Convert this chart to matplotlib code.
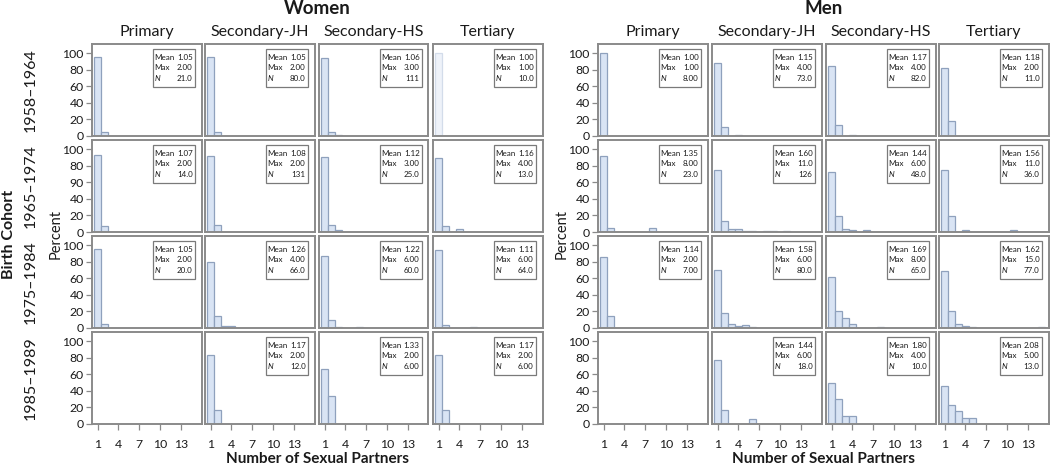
import matplotlib
matplotlib.use("Agg")
import matplotlib.pyplot as plt
from matplotlib.patches import Rectangle

plt.rcParams['font.family'] = ['Lato', 'DejaVu Sans']

cohorts = ["1958\u20131964", "1965\u20131974", "1975\u20131984", "1985\u20131989"]
education = ["Primary", "Secondary-JH", "Secondary-HS", "Tertiary"]
x_ticks = [1, 4, 7, 10, 13]
y_ticks = [0, 20, 40, 60, 80, 100]

# percent of respondents by number of partners (index 0 -> 1 partner)
women_pct = [
    [[95.2, 4.8], [95.0, 5.0], [94.6, 4.5, 0.9], [100.0]],
    [[92.9, 7.1], [92.0, 8.0], [90.0, 8.0, 2.0], [89.0, 7.5, 0, 3.5]],
    [[95.0, 5.0], [80.0, 15.0, 3.0, 2.0], [86.7, 10.0, 1.7, 0, 0, 1.6],
     [94.4, 4.0, 0, 0, 0, 1.6]],
    [[], [83.3, 16.7], [66.7, 33.3], [83.3, 16.7]],
]
women_mean = [["1.05", "1.05", "1.06", "1.00"],
              ["1.07", "1.08", "1.12", "1.16"],
              ["1.05", "1.26", "1.22", "1.11"],
              [None, "1.17", "1.33", "1.17"]]
women_max = [["2.00", "2.00", "3.00", "1.00"],
             ["2.00", "2.00", "3.00", "4.00"],
             ["2.00", "4.00", "6.00", "6.00"],
             [None, "2.00", "2.00", "2.00"]]
women_n = [["21.0", "80.0", "111", "10.0"],
           ["14.0", "131", "25.0", "13.0"],
           ["20.0", "66.0", "60.0", "64.0"],
           [None, "12.0", "6.00", "6.00"]]

men_pct = [
    [[100.0], [87.5, 11.0, 0, 1.5], [85.0, 13.4, 0, 1.6], [81.8, 18.2]],
    [[91.3, 4.35, 0, 0, 0, 0, 0, 4.35],
     [74.3, 13.7, 4.0, 4.0, 0.8, 0.8, 0, 0.8, 0.8, 0, 0.8],
     [72.9, 18.75, 4.2, 2.1, 0, 2.1],
     [75.0, 19.4, 0, 2.8, 0, 0, 0, 0, 0, 0, 2.8]],
    [[85.7, 14.3], [70.0, 17.5, 5.0, 2.0, 4.0, 1.5],
     [62.0, 20.0, 12.0, 4.5, 0, 0, 0, 1.5],
     [68.8, 20.8, 5.2, 2.6, 1.3, 0, 0, 0, 0, 0, 0, 0, 0, 0, 1.3]],
    [[], [77.8, 16.7, 0, 0, 0, 5.6], [50.0, 30.0, 10.0, 10.0],
     [46.2, 23.1, 15.4, 7.7, 7.7]],
]
men_mean = [["1.00", "1.15", "1.17", "1.18"],
            ["1.35", "1.60", "1.44", "1.56"],
            ["1.14", "1.58", "1.69", "1.62"],
            [None, "1.44", "1.80", "2.08"]]
men_max = [["1.00", "4.00", "4.00", "2.00"],
           ["8.00", "11.0", "6.00", "11.0"],
           ["2.00", "6.00", "8.00", "15.0"],
           [None, "6.00", "4.00", "5.00"]]
men_n = [["8.00", "73.0", "82.0", "11.0"],
         ["23.0", "126", "48.0", "36.0"],
         ["7.00", "80.0", "65.0", "77.0"],
         [None, "18.0", "10.0", "13.0"]]

W, H = 1050, 466
FRAME = '#8a8a8a'
FILL = '#d9e4f4'
EDGE = '#8fa1bd'
TXT = '#1a1a1a'

women_left = [92, 205, 319, 433]
men_left = [598, 712, 826, 939]
row_top = [44, 140, 236, 332]
pw, ph = 109.5, 92


def rect(x0, y_top, w, h):
    return [x0 / W, 1 - (y_top + h) / H, w / W, h / H]


def stats_box(ax, mean, mx, n):
    bw, bh = 42 / pw, 38 / ph
    bx, by = 1 - 7 / pw - bw, 1 - 5 / ph - bh
    ax.add_patch(Rectangle((bx, by), bw, bh, transform=ax.transAxes,
                           facecolor='white', edgecolor='#7a7a7a',
                           linewidth=0.9, zorder=5))
    rows = [("Mean", mean, 'normal'), ("Max", mx, 'normal'),
            ("N", n, 'italic')]
    for i, (lab, val, st) in enumerate(rows):
        y = 1 - (5 + 8 + i * 10.7) / ph
        ax.text(bx + 1.8 / pw, y, lab, transform=ax.transAxes, fontsize=5.8,
                style=st, va='center', ha='left', color=TXT, zorder=6)
        ax.text(bx + bw - 1.8 / pw, y, val, transform=ax.transAxes,
                fontsize=5.8, va='center', ha='right', color=TXT, zorder=6)


def draw_panel(fig, x0, y0, pct, mean, mx, n, first_col, last_row,
               pale=False, ylabels=None):
    ax = fig.add_axes(rect(x0, y0, pw, ph))
    xs = [i + 1 for i, v in enumerate(pct) if v > 0]
    vs = [v for v in pct if v > 0]
    fc, ec = (('#eef2f9', '#d3dcea') if pale else (FILL, EDGE))
    ax.bar(xs, vs, width=1.0, color=fc, edgecolor=ec, linewidth=0.9)
    ax.set_xlim(0.17, 16.0)
    ax.set_ylim(0, 111)
    for sp in ax.spines.values():
        sp.set_color(FRAME)
        sp.set_linewidth(1.4)
    ax.set_xticks(x_ticks)
    ax.set_yticks(y_ticks)
    ax.tick_params(axis='both', colors=FRAME, labelcolor=TXT, labelsize=8.8,
                   length=4, width=0.9, direction='out')
    if last_row:
        ax.tick_params(axis='x', pad=7)
    else:
        ax.tick_params(axis='x', length=0, labelbottom=False)
    if first_col:
        ax.tick_params(axis='y', pad=2)
        if ylabels is not None:
            ax.set_yticklabels(ylabels)
    else:
        ax.tick_params(axis='y', length=0, labelleft=False)
    if mean is not None:
        stats_box(ax, mean, mx, n)
    return ax


fig = plt.figure(figsize=(W / 100, H / 100), dpi=100)

for sex, lefts, pct, means, maxs, ns in [
        ("Women", women_left, women_pct, women_mean, women_max, women_n),
        ("Men", men_left, men_pct, men_mean, men_max, men_n)]:
    for r in range(4):
        for c in range(4):
            ylabels = None
            if sex == "Women" and r == 1 and c == 0:
                # the source figure prints 90 where 60 belongs
                ylabels = ["0", "20", "40", "90", "80", "100"]
            draw_panel(fig, lefts[c], row_top[r], pct[r][c], means[r][c],
                       maxs[r][c], ns[r][c], c == 0, r == 3,
                       pale=(sex == "Women" and r == 0 and c == 3),
                       ylabels=ylabels)
    for c in range(4):
        fig.text((lefts[c] + pw / 2) / W, 1 - 32 / H, education[c],
                 ha='center', va='center', fontsize=11.5, color=TXT)
    mid = (lefts[0] + lefts[3] + pw) / 2
    fig.text(mid / W, 1 - 9 / H, sex, ha='center', va='center',
             fontsize=13.5, fontweight='bold', color=TXT)
    fig.text(mid / W, 1 - 459 / H, "Number of Sexual Partners", ha='center',
             va='center', fontsize=11, fontweight='bold', color=TXT)
    fig.text((lefts[0] - 36) / W, 1 - 234 / H, "Percent", ha='center',
             va='center', rotation=90, fontsize=10.5, color=TXT)

for r in range(4):
    fig.text(31 / W, 1 - (row_top[r] + ph / 2) / H, cohorts[r], ha='center',
             va='center', rotation=90, fontsize=11.5, color=TXT)
fig.text(9 / W, 1 - 234 / H, "Birth Cohort", ha='center', va='center',
         rotation=90, fontsize=11.5, fontweight='bold', color=TXT)

fig.savefig("out.png", dpi=100)
